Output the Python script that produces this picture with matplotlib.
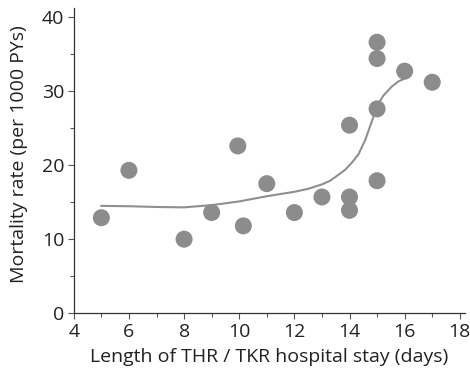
import matplotlib
matplotlib.use('Agg')
import matplotlib.pyplot as plt
import numpy as np

# length of stay (days) and mortality rate (per 1000 PYs)
stay_days = [5, 6, 8, 9, 9.95, 10.15, 11, 12, 13, 14, 14, 14, 15, 15, 15, 15, 16, 17]
mortality = [12.9, 19.3, 10.0, 13.6, 22.6, 11.8, 17.5, 13.6, 15.7, 25.4, 15.7, 13.9,
             36.6, 34.4, 27.6, 17.9, 32.7, 31.2]

# fitted smooth curve
curve_x = [5, 6, 7, 8, 9, 10, 11, 12, 12.5, 13, 13.3, 13.6, 13.85, 14.1, 14.33, 14.57,
           14.8, 14.93, 15.05, 15.23, 15.53, 15.77, 16]
curve_y = [14.5, 14.45, 14.35, 14.3, 14.6, 15.1, 15.8, 16.4, 16.8, 17.4, 17.9, 18.7,
           19.4, 20.4, 21.5, 23.4, 25.8, 27.2, 28.3, 29.4, 30.6, 31.3, 31.7]

plt.rcParams['font.family'] = ['Open Sans', 'DejaVu Sans']

fig = plt.figure(figsize=(4.7, 3.72), dpi=100)
ax = fig.add_axes([0.157, 0.158, 0.833, 0.82])

ax.plot(curve_x, curve_y, color='#8f8f8f', lw=1.5, zorder=2)
ax.scatter(stay_days, mortality, s=150, color='#8c8c8c', edgecolors='none', zorder=3)

ax.set_xlim(4, 18.2)
ax.set_ylim(0, 41.2)
ax.set_xticks(range(4, 19, 2))
ax.set_xticks(range(5, 18, 2), minor=True)
ax.set_yticks(range(0, 41, 10))
ax.set_yticks(range(5, 40, 10), minor=True)

for side in ['top', 'right']:
    ax.spines[side].set_visible(False)
for side in ['left', 'bottom']:
    ax.spines[side].set_color('#333333')
    ax.spines[side].set_linewidth(0.9)

ax.tick_params(which='both', direction='out', color='#555555', width=0.8, labelsize=14,
               labelcolor='#222222')
ax.tick_params(which='major', length=4)
ax.tick_params(which='minor', length=3)
ax.tick_params(axis='x', pad=3)
ax.tick_params(axis='y', pad=3)

ax.set_xlabel('Length of THR / TKR hospital stay (days)', fontsize=14, color='#222222')
ax.set_ylabel('Mortality rate (per 1000 PYs)', fontsize=14, color='#222222')
ax.xaxis.set_label_coords(0.5, -0.115)
ax.yaxis.set_label_coords(-0.118, 0.52)

plt.savefig('out.png', dpi=100)
